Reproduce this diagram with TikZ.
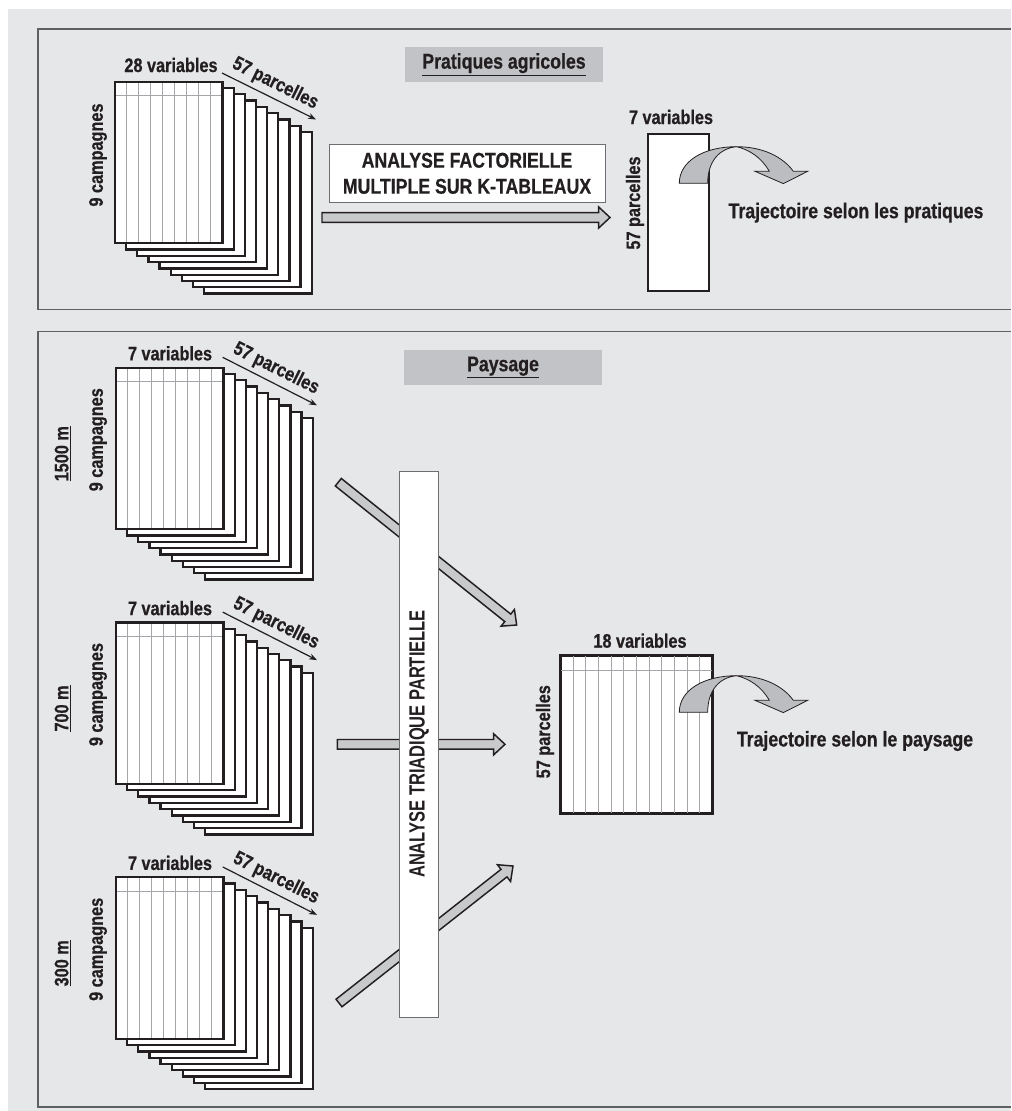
\documentclass[tikz,border=0pt]{standalone}
\usepackage{fontspec}
\setmainfont{Liberation Sans}[FakeStretch=0.83, BoldFont={Liberation Sans Bold}, BoldFeatures={FakeBold=0.6}]
\newfontfamily\atpfont{Liberation Sans Bold}[FakeStretch=0.75]
\usetikzlibrary{arrows.meta,calc}
\definecolor{bg}{HTML}{E6E7E9}
\definecolor{titlegray}{HTML}{C2C3C6}
\definecolor{arrowgray}{HTML}{C8C9CB}
\definecolor{curvgray}{HTML}{BCBDC0}
\definecolor{framegray}{HTML}{5F6062}
\definecolor{boxgray}{HTML}{6D6E71}
\definecolor{ink}{HTML}{231F20}
\definecolor{colgray}{HTML}{A4A6A9}
\newcommand{\fatarr}[2]{%
  \filldraw[fatarrow]
    ($(#1)!3.6pt!90:(#2)$) -- ($($(#2)!8.6pt!(#1)$)!3.6pt!-90:(#1)$)
    -- ($($(#2)!8.6pt!(#1)$)!8pt!-90:(#1)$) -- (#2)
    -- ($($(#2)!8.6pt!(#1)$)!8pt!90:(#1)$)
    -- ($($(#2)!8.6pt!(#1)$)!3.6pt!90:(#1)$)
    -- ($(#1)!3.6pt!-90:(#2)$) -- cycle;}
\tikzset{
  sheet/.style={fill=white, draw=ink, line width=1.7pt},
  colline/.style={draw=colgray, line width=0.75pt},
  frame/.style={draw=framegray, line width=1.1pt},
  lbl/.style={font=\fontsize{14.7}{17}\selectfont\bfseries, text=ink, inner sep=0pt},
  biglbl/.style={font=\fontsize{16}{19.5}\selectfont\bfseries, text=ink, inner sep=0pt},
  titlebox/.style={fill=titlegray, font=\fontsize{16}{19}\selectfont\bfseries, text=ink,
    minimum width=148.4pt, minimum height=25.7pt, inner sep=0pt},
  whitebox/.style={fill=white, draw=boxgray, line width=0.6pt, inner sep=0pt},
  thinarr/.style={draw=ink, line width=0.9pt, -{Stealth[length=6pt,width=4.5pt]}},
  plab/.style={lbl, rotate=-26.5, anchor=south, inner sep=3.2pt},
  fatarrow/.style={fill=arrowgray, draw=ink, line width=1.1pt, line join=miter},
  curvfill/.style={fill=curvgray, draw=ink, line width=0.6pt},
  restab/.style={fill=white, draw=ink, line width=1.5pt, inner sep=0pt},
  pics/stack/.style={code={
    \foreach \i in {8,7,...,1}{
      \filldraw[sheet] (11.15*\i,6.3*\i) rectangle ++(107.5,161.5);
    }
    \fill[white] (0,0) rectangle (107.5,161.5);
    \foreach \k in {1,...,8}{\draw[colline] (11.944*\k,0) -- (11.944*\k,161.5);}
    \draw[colline] (0,14) -- (107.5,14);
    \draw[sheet, fill=none] (0,0) rectangle (107.5,161.5);
  }},
  pics/curv/.style={code={
    \filldraw[curvfill] (57.4,-36.6) .. controls (84,-36.6) and (104,-26) .. (114,-12)
      -- (128.4,-12) -- (104,0.3) -- (75.7,-12) -- (90,-12)
      .. controls (82,-26) and (70,-33.5) .. (57.4,-36.6) -- cycle;
    \filldraw[curvfill] (0,0) .. controls (0,-22) and (24,-36.6) .. (57.4,-36.6)
      .. controls (40,-35) and (28.4,-22) .. (28.4,0) -- cycle;
  }}
}
\begin{document}
\begin{tikzpicture}[x=0.75pt,y=-0.75pt]
\path[use as bounding box] (0,0) rectangle (1011,1111);
\fill[bg] (8,9) rectangle (1011,1111);
\draw[frame] (1011,29) -- (38,29) -- (38,309.5) -- (1011,309.5);
\draw[frame] (1011,331.5) -- (38,331.5) -- (38,1107) -- (1011,1107);

% ---------- Panel 1 : Pratiques agricoles ----------
\node[titlebox] (t1) at (504,64.5) {\underline{Pratiques agricoles}};
\pic at (115,81.7) {stack};
\node[lbl] (p1var) at (171,65) {28 variables};
\node[lbl, rotate=90] (p1camp) at (98,155) {9 campagnes};
\coordinate (p1pa) at (222,73);
\coordinate (p1pb) at (316,119.5);
\draw[thinarr] (p1pa) -- (p1pb) node[plab, midway] (p1par) {57 parcelles};

\node[whitebox, biglbl, align=center, minimum width=207pt, minimum height=43.5pt]
  (afm) at (467,173.3) {ANALYSE FACTORIELLE\\MULTIPLE SUR K-TABLEAUX};
\coordinate (a0s) at (322,217.5);
\coordinate (a0e) at (610,217.5);
\fatarr{a0s}{a0e}

\node[restab, minimum width=46pt, minimum height=117.75pt] (res1) at (678.3,212.8) {};
\node[lbl] (r1var) at (671,117) {7 variables};
\node[lbl, rotate=90] (r1par) at (635,203) {57 parcelles};
\pic at (679.3,183.3) {curv};
\node[biglbl] (traj1) at (856,212.7) {Trajectoire selon les pratiques};

% ---------- Panel 2 : Paysage ----------
\node[titlebox] (t2) at (503,367.5) {\underline{Paysage}};

\foreach \T/\n/\d in {367.7/1/1500, 622.5/2/700, 877.3/3/300}{
  \pic at (116,\T) {stack};
  \node[lbl] (s\n var) at (170,\T-14.4) {7 variables};
  \node[lbl, rotate=90] (s\n camp) at (98,\T+72) {9 campagnes};
  \node[lbl, rotate=90] (s\n dist) at (63,\T+86) {\underline{\d\ m}};
  \coordinate (s\n pa) at (222.7,\T-10.4);
  \coordinate (s\n pb) at (317,\T+37.6);
  \draw[thinarr] (s\n pa) -- (s\n pb) node[plab, midway] (s\n par) {57 parcelles};
}

\coordinate (a1s) at (338.3,482.2);
\coordinate (a1e) at (516.7,625);
\coordinate (a2s) at (337.3,744.3);
\coordinate (a2e) at (505,744.3);
\coordinate (a3s) at (339,1003);
\coordinate (a3e) at (513,866);
\fatarr{a1s}{a1e}
\fatarr{a2s}{a2e}
\fatarr{a3s}{a3e}

\node[whitebox, font=\fontsize{16.5}{19}\selectfont\atpfont, text=ink, rotate=90,
  minimum width=409.5pt, minimum height=28.7pt]
  (atp) at (419,744) {ANALYSE TRIADIQUE PARTIELLE};

\node[restab, minimum width=113.7pt, minimum height=118pt] (res2) at (636.5,734.65) {};
\foreach \k in {1,...,11}{\draw[colline] (560.7+12.633*\k,656) -- (560.7+12.633*\k,813.3);}
\draw[colline] (560.7,670) -- (712.3,670);
\draw[draw=ink, line width=1.5pt] (res2.north west) rectangle (res2.south east);
\node[lbl] (r2var) at (640,640.7) {18 variables};
\node[lbl, rotate=90] (r2par) at (545,731.7) {57 parcelles};
\pic at (679.3,712.3) {curv};
\node[biglbl] (traj2) at (855,741) {Trajectoire selon le paysage};
\end{tikzpicture}
\end{document}
